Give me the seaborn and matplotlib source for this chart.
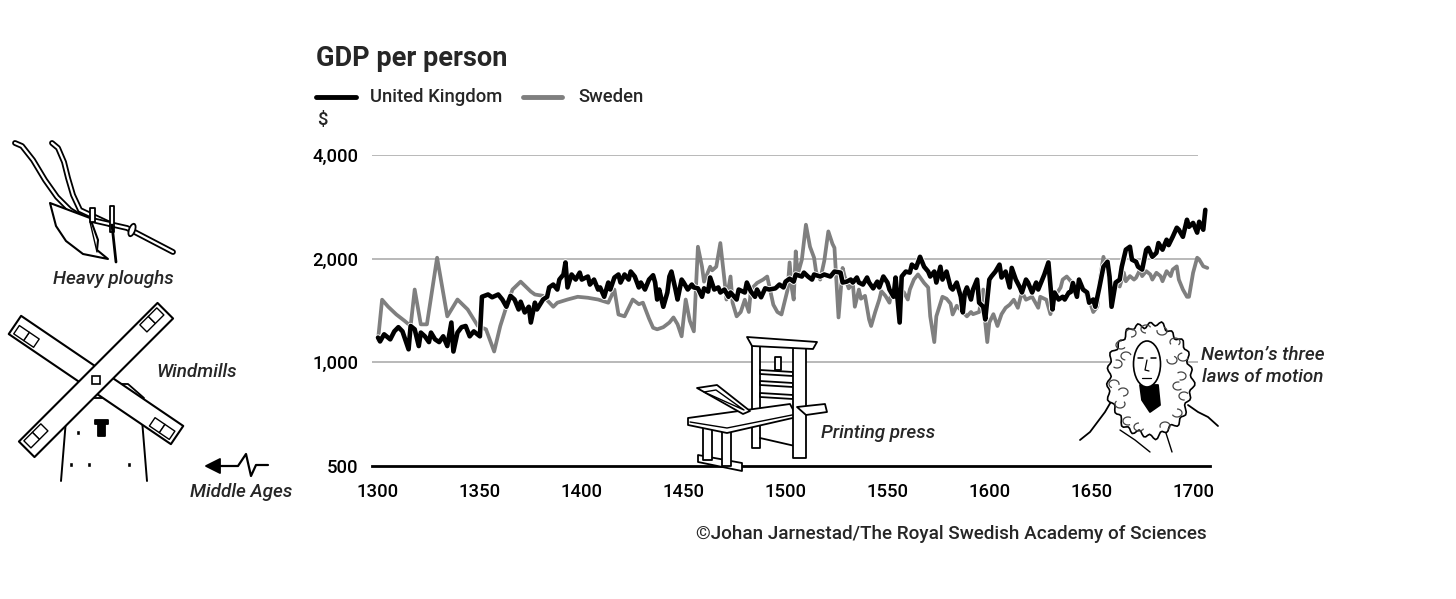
import numpy as np
import pandas as pd
import matplotlib
matplotlib.use('Agg')
import matplotlib.pyplot as plt
import matplotlib.patheffects as pe
from matplotlib.patches import Polygon, Rectangle, Ellipse, Arc
from matplotlib.ticker import NullLocator, FixedLocator
import seaborn as sns

# GDP per person (USD)
uk_years = [1300, 1301, 1303, 1306, 1308, 1310, 1312, 1315, 1316, 1318, 1320, 1321, 1323, 1325, 1326,
            1328, 1330, 1332, 1334, 1336, 1337, 1339, 1341, 1343, 1345, 1347, 1350, 1351, 1354, 1356,
            1359, 1361, 1363, 1365, 1367, 1369, 1370, 1372, 1374, 1375, 1377, 1378, 1380, 1381, 1383,
            1384, 1386, 1388, 1389, 1391, 1392, 1393, 1395, 1397, 1399, 1400, 1403, 1404, 1406, 1408,
            1409, 1411, 1413, 1414, 1416, 1418, 1419, 1421, 1423, 1424, 1426, 1428, 1429, 1431, 1433,
            1435, 1436, 1437, 1438, 1440, 1442, 1443, 1444, 1446, 1447, 1449, 1450, 1452, 1454, 1455,
            1457, 1459, 1460, 1462, 1463, 1465, 1467, 1468, 1470, 1472, 1473, 1476, 1477, 1480, 1481,
            1483, 1485, 1486, 1488, 1490, 1492, 1495, 1497, 1499, 1500, 1502, 1504, 1505, 1508, 1509,
            1511, 1513, 1514, 1517, 1519, 1522, 1524, 1527, 1528, 1530, 1532, 1533, 1535, 1536, 1538,
            1540, 1541, 1543, 1545, 1546, 1548, 1550, 1551, 1553, 1554, 1556, 1557, 1559, 1561, 1562,
            1564, 1566, 1568, 1570, 1571, 1573, 1574, 1576, 1577, 1579, 1581, 1582, 1584, 1586, 1587,
            1588, 1589, 1591, 1592, 1594, 1595, 1597, 1598, 1600, 1601, 1603, 1605, 1606, 1608, 1610,
            1611, 1613, 1615, 1616, 1618, 1619, 1621, 1623, 1624, 1626, 1627, 1629, 1631, 1632, 1634,
            1636, 1637, 1639, 1640, 1641, 1643, 1644, 1646, 1648, 1649, 1651, 1652, 1654, 1656, 1658,
            1659, 1660, 1662, 1664, 1665, 1667, 1669, 1670, 1672, 1673, 1675, 1677, 1678, 1680, 1682,
            1683, 1685, 1687, 1688, 1690, 1692, 1693, 1695, 1697, 1698, 1700, 1702, 1703, 1705, 1706]
uk_gdp = [1180, 1150, 1206, 1166, 1230, 1265, 1230, 1091, 1275, 1247, 1115, 1220, 1190, 1145, 1220,
          1166, 1145, 1190, 1115, 1305, 1075, 1220, 1265, 1275, 1190, 1230, 1190, 1550, 1574, 1545,
          1574, 1522, 1450, 1560, 1522, 1424, 1500, 1396, 1450, 1305, 1490, 1424, 1490, 1522, 1550,
          1650, 1682, 1627, 1739, 1799, 1950, 1650, 1799, 1739, 1822, 1739, 1775, 1682, 1739, 1627,
          1650, 1550, 1705, 1627, 1763, 1799, 1705, 1799, 1739, 1835, 1775, 1650, 1705, 1627, 1739,
          1790, 1705, 1522, 1627, 1450, 1595, 1775, 1835, 1627, 1522, 1739, 1705, 1627, 1682, 1650,
          1640, 1550, 1640, 1605, 1763, 1627, 1650, 1595, 1627, 1550, 1595, 1522, 1627, 1595, 1705,
          1605, 1550, 1627, 1545, 1640, 1627, 1640, 1682, 1650, 1715, 1750, 1715, 1799, 1775, 1822,
          1775, 1739, 1799, 1775, 1799, 1775, 1835, 1822, 1705, 1715, 1739, 1705, 1763, 1705, 1682,
          1763, 1705, 1640, 1715, 1650, 1775, 1705, 1627, 1550, 1763, 1305, 1775, 1835, 1822, 1922,
          1880, 2025, 1895, 1835, 1775, 1835, 1705, 1895, 1739, 1835, 1650, 1627, 1705, 1550, 1396,
          1595, 1650, 1522, 1627, 1739, 1490, 1450, 1332, 1739, 1775, 1835, 1922, 1763, 1835, 1650,
          1880, 1739, 1650, 1595, 1739, 1705, 1595, 1705, 1627, 1739, 1799, 1950, 1424, 1595, 1522,
          1550, 1522, 1595, 1600, 1700, 1550, 1739, 1627, 1595, 1490, 1522, 1450, 1650, 1895, 1960,
          1775, 1450, 1705, 1739, 1895, 2124, 2166, 1987, 1960, 1895, 1859, 2124, 2150, 2025, 2080,
          2220, 2124, 2270, 2190, 2315, 2460, 2427, 2315, 2594, 2475, 2540, 2380, 2560, 2427, 2772]

se_years = [1300, 1302, 1305, 1309, 1313, 1316, 1318, 1321, 1324, 1329, 1334, 1339, 1344, 1349, 1353,
            1357, 1360, 1363, 1366, 1370, 1375, 1377, 1381, 1386, 1388, 1393, 1398, 1403, 1408, 1413,
            1416, 1418, 1421, 1425, 1428, 1430, 1433, 1435, 1437, 1440, 1443, 1445, 1447, 1449, 1451,
            1453, 1455, 1457, 1459, 1460, 1463, 1464, 1466, 1468, 1470, 1471, 1473, 1474, 1476, 1478,
            1480, 1482, 1483, 1486, 1489, 1491, 1494, 1496, 1498, 1501, 1502, 1503, 1504, 1505, 1506,
            1508, 1510, 1512, 1514, 1515, 1517, 1519, 1521, 1523, 1524, 1526, 1528, 1529, 1531, 1533,
            1534, 1536, 1537, 1539, 1541, 1542, 1544, 1546, 1547, 1549, 1551, 1552, 1554, 1555, 1558,
            1560, 1561, 1563, 1565, 1568, 1570, 1571, 1573, 1574, 1577, 1579, 1581, 1582, 1584, 1586,
            1587, 1589, 1591, 1592, 1595, 1597, 1598, 1599, 1600, 1602, 1604, 1606, 1608, 1610, 1612,
            1614, 1616, 1618, 1621, 1624, 1625, 1628, 1630, 1632, 1635, 1636, 1638, 1640, 1642, 1645,
            1647, 1649, 1651, 1653, 1654, 1656, 1658, 1659, 1661, 1662, 1664, 1666, 1667, 1669, 1671,
            1672, 1674, 1675, 1677, 1679, 1680, 1682, 1684, 1685, 1687, 1689, 1690, 1692, 1693, 1695,
            1697, 1698, 1700, 1702, 1703, 1705, 1707]
se_gdp = [1160, 1520, 1450, 1377, 1320, 1275, 1627, 1289, 1289, 2013, 1360, 1522, 1424, 1275, 1247,
          1075, 1275, 1450, 1627, 1715, 1605, 1574, 1560, 1450, 1490, 1522, 1550, 1540, 1522, 1490,
          1627, 1377, 1360, 1522, 1475, 1490, 1340, 1260, 1247, 1265, 1305, 1350, 1290, 1190, 1522,
          1320, 1230, 2166, 1895, 1715, 1895, 1850, 1895, 2220, 1739, 1522, 1775, 1490, 1360, 1400,
          1520, 1400, 1627, 1700, 1739, 1775, 1470, 1400, 1377, 1625, 1950, 1650, 1522, 2100, 1800,
          1987, 2510, 2166, 2013, 1830, 1739, 1970, 2400, 2210, 2150, 1350, 1880, 1775, 1640, 1700,
          1450, 1627, 1530, 1560, 1332, 1275, 1400, 1522, 1610, 1560, 1490, 1600, 1560, 1490, 1600,
          1522, 1627, 1740, 1800, 1700, 1650, 1360, 1145, 1360, 1550, 1530, 1480, 1377, 1460, 1420,
          1400, 1360, 1400, 1380, 1400, 1627, 1305, 1145, 1305, 1380, 1275, 1380, 1440, 1470, 1520,
          1440, 1600, 1520, 1550, 1440, 1550, 1520, 1380, 1550, 1650, 1739, 1775, 1720, 1627, 1700,
          1595, 1522, 1400, 1450, 1700, 2025, 1830, 1739, 1627, 1700, 1660, 1822, 1720, 1780, 1739,
          1760, 1859, 1780, 1840, 1800, 1739, 1820, 1780, 1720, 1840, 1780, 1860, 1900, 1739, 1627,
          1550, 1550, 1820, 2013, 1990, 1900, 1880]

x_ticks = [1300, 1350, 1400, 1450, 1500, 1550, 1600, 1650, 1700]
y_ticks = [500, 1000, 2000, 4000]
y_labels = ['500', '1,000', '2,000', '4,000']

W, H = 1456, 599
FS = 13.3
sns.set_style('white')
plt.rcParams['font.family'] = ['Roboto', 'DejaVu Sans']
plt.rcParams['font.weight'] = 500

fig = plt.figure(figsize=(W / 100, H / 100), dpi=100)
ax = fig.add_axes([372 / W, 1 - 466 / H, (1210 - 372) / W, (466 - 155) / H])

ax.set_yscale('log')
ax.set_xlim(1297.05, 1708.3)
ax.set_ylim(500, 4000)
ax.hlines([1000, 2000, 4000], 1297.05, 1702.5, color='#a6a6a6', lw=1.1, zorder=1)

sns.lineplot(x=se_years, y=se_gdp, ax=ax, color='#7f7f7f', lw=2.7, estimator=None, zorder=3)
sns.lineplot(x=uk_years, y=uk_gdp, ax=ax, color='black', lw=3.3, estimator=None, zorder=4,
             path_effects=[pe.withStroke(linewidth=4.6, foreground='white')])

ax.yaxis.set_major_locator(FixedLocator(y_ticks))
ax.yaxis.set_minor_locator(NullLocator())
ax.set_yticklabels(y_labels)
ax.set_xticks(x_ticks)
ax.set_xticklabels([str(t) for t in x_ticks])
for s in ['left', 'top', 'right']:
    ax.spines[s].set_visible(False)
ax.spines['bottom'].set_linewidth(2)
ax.spines['bottom'].set_color('black')
ax.tick_params(axis='x', length=7, width=1.4, color='black', pad=5, labelsize=FS, labelcolor='black')
ax.tick_params(axis='y', length=0, pad=10, labelsize=FS, labelcolor='black')
ax.set_xlabel('')
ax.set_ylabel('')
ax.grid(False)

# overlay in pixel coordinates for titles, legend and drawings
ov = fig.add_axes([0, 0, 1, 1], zorder=10)
ov.set_xlim(0, W)
ov.set_ylim(H, 0)
ov.axis('off')
ov.patch.set_alpha(0)

ov.text(316, 58, 'GDP per person', fontsize=19.5, fontweight='bold', va='center', ha='left')
ov.plot([316, 356], [97, 97], color='black', lw=3.5, solid_capstyle='round')
ov.text(370, 97, 'United Kingdom', fontsize=FS, va='center', ha='left')
ov.plot([523, 562], [97, 97], color='#7f7f7f', lw=3.5, solid_capstyle='round')
ov.text(578, 97, 'Sweden', fontsize=FS, va='center', ha='left')
ov.text(317, 120, '$', fontsize=FS, va='center', ha='left')
ov.text(1207, 534, '©Johan Jarnestad/The Royal Swedish Academy of Sciences', fontsize=FS + 0.3,
        va='center', ha='right')

it = dict(fontsize=FS + 0.3, style='italic', va='center')
ov.text(113, 279, 'Heavy ploughs', ha='center', **it)
ov.text(197, 372, 'Windmills', ha='center', **it)
ov.text(241, 492, 'Middle Ages', ha='center', **it)
ov.text(821, 433, 'Printing press', ha='left', **it)
ov.text(1263, 366, 'Newton’s three\nlaws of motion', ha='center', linespacing=1.3, **it)

ink = dict(facecolor='white', edgecolor='black', lw=1.3, joinstyle='round')


def poly(pts, z=11, **kw):
    style = dict(ink)
    style.update(kw)
    ov.add_patch(Polygon(pts, closed=True, zorder=z, **style))


def line(xs, ys, lw=1.3, color='black', z=11):
    ov.plot(xs, ys, color=color, lw=lw, zorder=z, solid_capstyle='round')


# Middle Ages arrow
line([214, 238, 246, 251, 256, 268], [466, 466, 454, 476, 465, 465], lw=1.6)
poly([(206, 466), (220, 459), (220, 473)], facecolor='black')

# plough
for xs, ys in [([15, 22, 33, 45, 57, 70, 83], [143, 146, 160, 180, 197, 210, 218]),
               ([52, 58, 64, 68, 73, 80, 110], [143, 148, 162, 178, 195, 210, 224])]:
    line(xs, ys, lw=4.2)
    line(xs, ys, lw=1.6, color='white')
line([83, 127, 150, 173], [218, 228, 240, 252], lw=4.2)
line([83, 127, 150, 173], [218, 228, 240, 252], lw=1.6, color='white')
poly([(50, 203), (90, 218), (98, 240), (97, 250), (108, 259), (83, 254), (66, 241), (56, 226)], lw=1.5)
line([90, 97], [222, 252], lw=1.0, z=12)
poly([(90, 208), (95, 208), (95, 222), (90, 222)])
poly([(110, 206), (114, 206), (114, 232), (110, 232)])
line([112, 116], [225, 262], lw=2)
ov.add_patch(Ellipse((132, 230), 6, 13, angle=20, facecolor='white', edgecolor='black', lw=1.3, zorder=12))

# windmill
line([68, 61], [395, 481], lw=1.4)
line([140, 147], [395, 481], lw=1.4)
poly([(64, 398), (78, 384), (128, 384), (144, 398)])
c = np.array([96.0, 380.0])
for p0, p1 in [((15, 327), (177, 437)), ((167, 307), (27, 447))]:
    d = np.array(p1, float) - np.array(p0, float)
    d /= np.hypot(*d)
    n = np.array([-d[1], d[0]])
    L, w = 98, 11
    poly([c - d * L + n * w, c + d * L + n * w, c + d * L - n * w, c - d * L - n * w], z=12, lw=1.5)
    for sgn in (-1, 1):
        for a, b in [(70, 82), (82, 94)]:
            q = [c + sgn * d * a + n * 8, c + sgn * d * b + n * 8,
                 c + sgn * d * b - n * 2, c + sgn * d * a - n * 2]
            poly(q, z=13, lw=1.0)
ov.add_patch(Rectangle((92, 376), 8, 8, facecolor='white', edgecolor='black', lw=1.2, zorder=14))
poly([(95, 420), (108, 420), (108, 424), (105, 424), (105, 436), (98, 436), (98, 424), (95, 424)],
     facecolor='black')
for wx, wy in [(76, 430), (69, 462), (87, 462), (127, 462)]:
    ov.add_patch(Rectangle((wx, wy), 4, 5, facecolor='black', zorder=12))

# printing press
poly([(698, 455), (742, 463), (742, 471), (698, 462)])
poly([(703, 428), (712, 428), (712, 460), (703, 460)])
poly([(722, 431), (731, 431), (731, 466), (722, 466)])
poly([(752, 345), (760, 345), (760, 448), (752, 448)])
for yy in (370, 381, 393):
    poly([(760, yy), (793, yy + 2), (793, yy + 6), (760, yy + 4)])
poly([(775, 357), (781, 357), (781, 370), (775, 370)])
line([760, 795], [438, 446])
poly([(688, 418), (790, 404), (797, 417), (727, 433), (688, 425)], z=12)
line([690, 727, 797], [422, 428, 414], lw=1.0, z=13)
poly([(697, 388), (717, 385), (750, 411), (743, 414)], z=13)
poly([(704, 392), (716, 390), (744, 410)], z=13, lw=1.0)
poly([(793, 348), (806, 348), (806, 458), (793, 458)], z=14)
poly([(797, 407), (825, 404), (827, 412), (806, 415)], z=14)
poly([(747, 337), (817, 342), (813, 349), (752, 346)], z=15)

# Newton
t = np.linspace(0, 2 * np.pi, 140)
rr = 1 + 0.045 * np.sin(t * 23) + 0.03 * np.sin(t * 9 + 1)
hx = 1150 + 42 * rr * np.cos(t)
hy = 380 + 56 * rr * np.sin(t)
line([1080, 1090, 1105, 1112], [440, 432, 412, 400], lw=1.3)
line([1188, 1198, 1208, 1218], [405, 412, 417, 426], lw=1.3)
line([1120, 1135, 1150], [430, 440, 452], lw=1.0)
line([1165, 1172], [430, 452], lw=1.0)
poly(list(zip(hx, hy)), z=11, lw=1.2)
curls = [(1121, 345, 30), (1131, 333, 200), (1146, 329, 90), (1162, 331, 300), (1175, 342, 150),
         (1183, 357, 10), (1117, 364, 250), (1114, 384, 120), (1120, 404, 330), (1128, 421, 60),
         (1181, 376, 220), (1184, 396, 80), (1177, 413, 270), (1165, 426, 160), (1139, 427, 20),
         (1126, 356, 100), (1172, 360, 300), (1123, 392, 200), (1178, 386, 40)]
for cx_, cy_, a0 in curls:
    ov.add_patch(Arc((cx_, cy_), 10, 8, theta1=a0, theta2=a0 + 250, edgecolor='#444444', lw=0.9, zorder=12))
poly([(1140, 385), (1158, 385), (1160, 405), (1150, 412), (1142, 400)], z=12, facecolor='black')
ov.add_patch(Ellipse((1147, 364), 27, 46, facecolor='white', edgecolor='black', lw=1.2, zorder=13))
line([1138, 1143], [358, 358], lw=1.1, z=14)
line([1151, 1156], [358, 358], lw=1.1, z=14)
line([1147, 1145, 1149], [360, 370, 371], lw=0.9, z=14)
line([1142, 1151], [378, 378], lw=0.9, z=14)

fig.savefig('out.png', dpi=100)
